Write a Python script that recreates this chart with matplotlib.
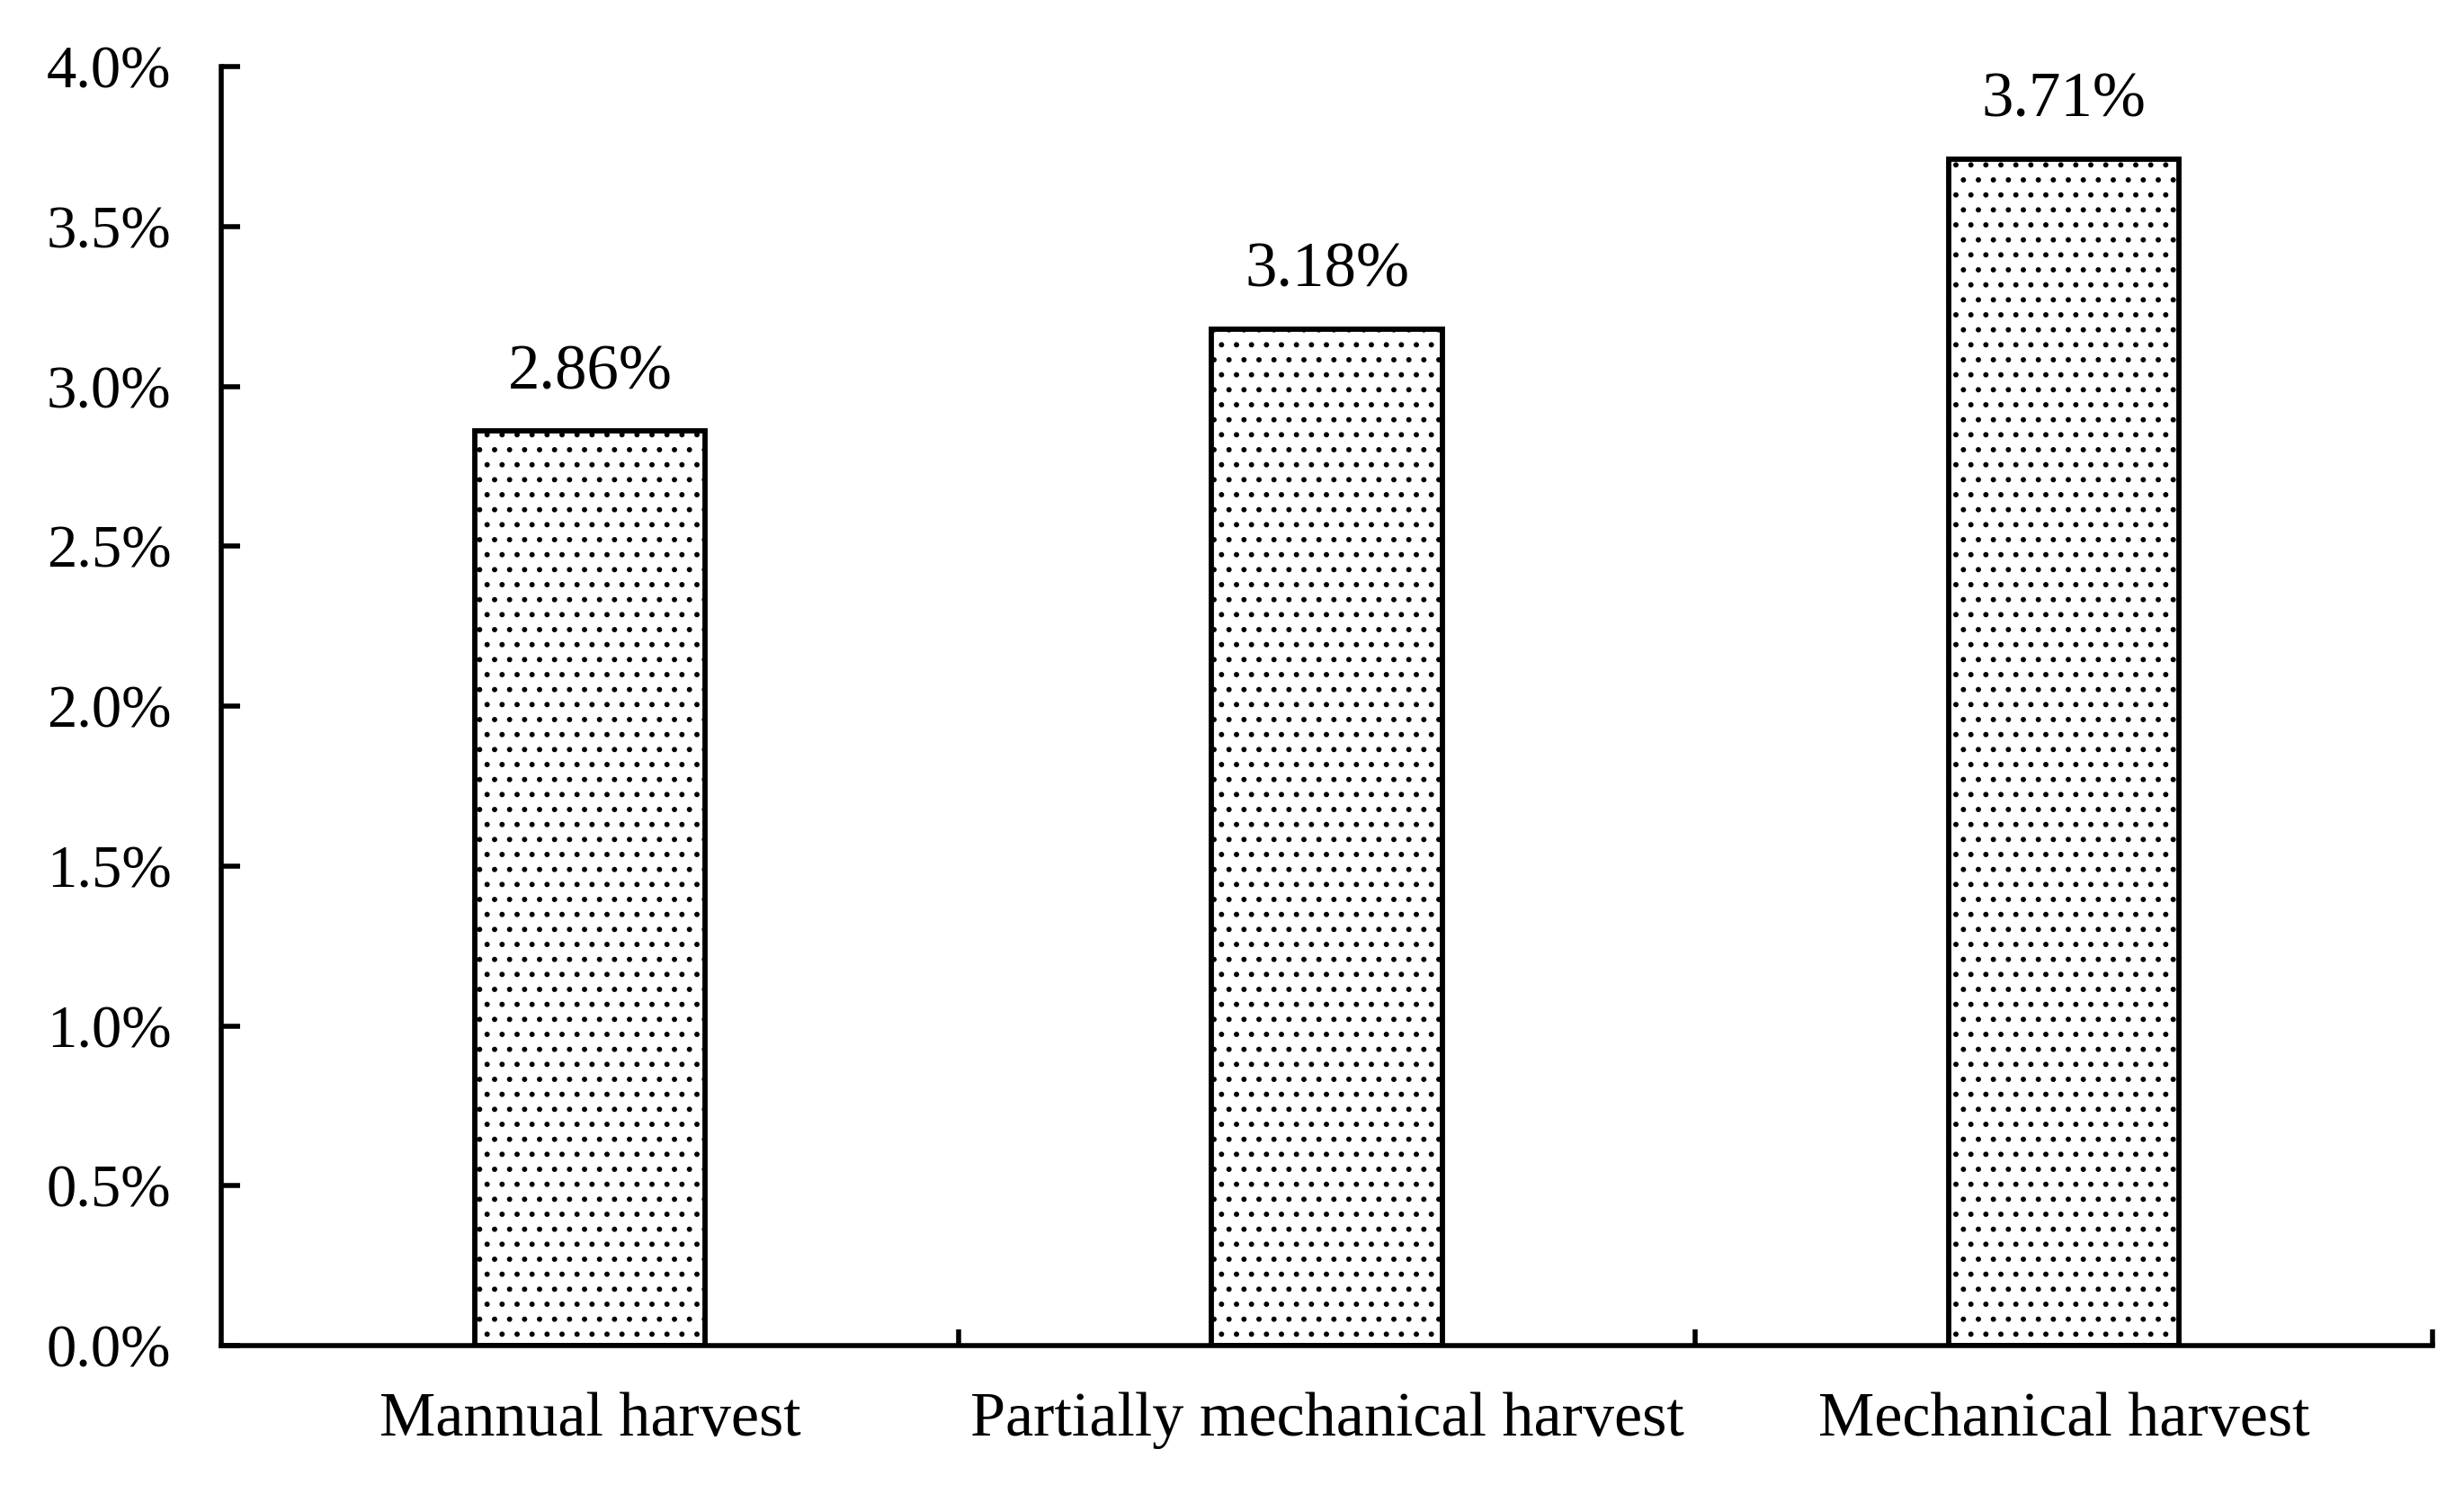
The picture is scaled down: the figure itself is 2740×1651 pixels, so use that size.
import matplotlib
matplotlib.use("Agg")
import matplotlib.pyplot as plt
from matplotlib.ticker import FuncFormatter, FixedLocator

categories = ["Mannual harvest", "Partially mechanical harvest", "Mechanical harvest"]
values = [2.86, 3.18, 3.71]
value_labels = ["2.86%", "3.18%", "3.71%"]
yticks = [0.0, 0.5, 1.0, 1.5, 2.0, 2.5, 3.0, 3.5, 4.0]

plt.rcParams['font.family'] = ['Liberation Serif', 'DejaVu Serif']
plt.rcParams['hatch.linewidth'] = 1.8
plt.rcParams['hatch.color'] = 'black'

fig = plt.figure(figsize=(27.4, 16.51), dpi=100)
left, right, bottom, top = 0.0898, 0.9872, 0.0938, 0.9552
ax = fig.add_axes([left, bottom, right - left, top - bottom])

x = list(range(len(categories)))
bars = ax.bar(x, values, width=0.313, color='white', edgecolor='black',
              linewidth=4.2, hatch='.', zorder=2)

for xi, v, lab in zip(x, values, value_labels):
    ax.annotate(lab, (xi, v), xytext=(0, 34), textcoords='offset points',
                ha='center', va='baseline', fontsize=51)

ax.set_xlim(-0.5, 2.5)
ax.set_ylim(0, 4.0)
ax.set_yticks(yticks)
ax.yaxis.set_major_formatter(FuncFormatter(lambda v, p: f"{v:.1f}%"))

# boundary ticks (major) and category labels at centers (minor)
ax.xaxis.set_major_locator(FixedLocator([0.5, 1.5, 2.5]))
ax.xaxis.set_major_formatter(FuncFormatter(lambda v, p: ""))
ax.set_xticks(x, minor=True)
ax.set_xticklabels(categories, minor=True)
ax.tick_params(axis='x', which='minor', length=0, pad=37, labelsize=50.5)
ax.tick_params(axis='x', which='major', direction='in', length=13, width=4)
ax.tick_params(axis='y', direction='in', length=15, width=4, pad=40, labelsize=48)

for s in ['top', 'right']:
    ax.spines[s].set_visible(False)
for s in ['left', 'bottom']:
    ax.spines[s].set_linewidth(4)
    ax.spines[s].set_zorder(3)

fig.savefig("out.png", dpi=100)
